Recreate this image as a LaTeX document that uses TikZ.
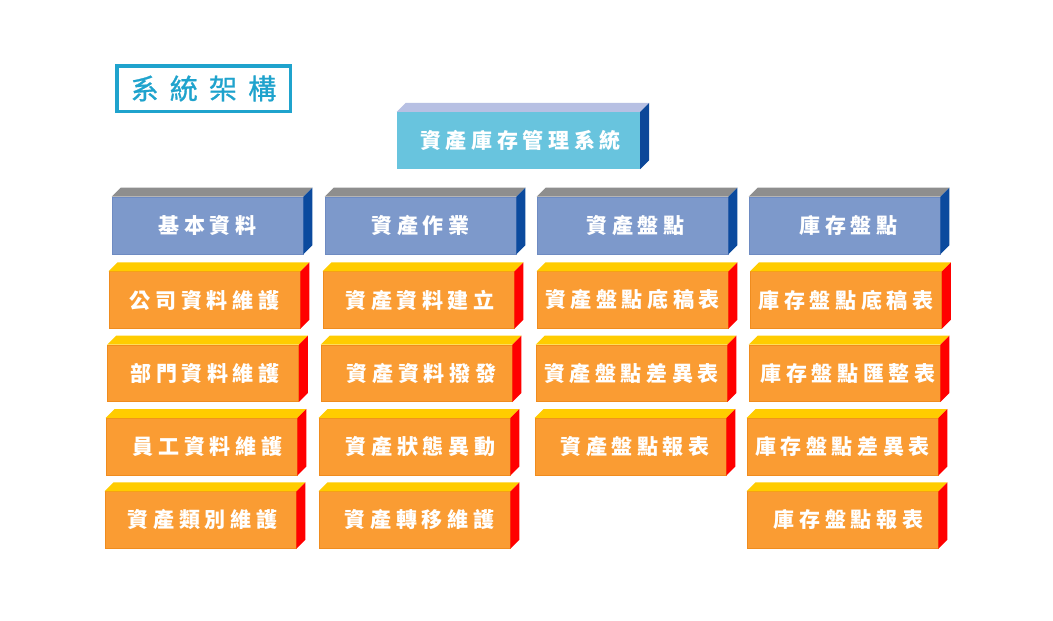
\documentclass[tikz,border=0pt]{standalone}
\usepackage{fontspec}
\newfontfamily\cjk[LetterSpace=22]{Noto Sans CJK TC}
\newfontfamily\cjktitle[LetterSpace=40,FakeBold=1]{Noto Sans CJK TC}
\definecolor{ofrontc}{HTML}{FA9C33}
\definecolor{oedgec}{HTML}{F08C1E}
\definecolor{otopc}{HTML}{FFCC00}
\definecolor{osidec}{HTML}{FF0000}
\definecolor{bfrontc}{HTML}{7D99CB}
\definecolor{bedgec}{HTML}{6E8BC2}
\definecolor{btopc}{HTML}{8E8E8E}
\definecolor{bsidec}{HTML}{0B4A9E}
\definecolor{cfrontc}{HTML}{68C4DE}
\definecolor{ctopc}{HTML}{B7C0E3}
\definecolor{csidec}{HTML}{0C4799}
\definecolor{titlec}{HTML}{1FA3CD}
\tikzset{
  lbl/.style={text=white, font=\cjk\bfseries\fontsize{21}{21}\selectfont, inner sep=0pt},
  ofront/.style={lbl, fill=ofrontc, draw=oedgec, line width=0.8pt},
  otop/.style={fill=otopc},
  oside/.style={fill=osidec},
  bfront/.style={lbl, fill=bfrontc, draw=bedgec, line width=0.6pt},
  btop/.style={fill=btopc},
  bside/.style={fill=bsidec},
  cfront/.style={lbl, fill=cfrontc},
  ctop/.style={fill=ctopc},
  cside/.style={fill=csidec},
  titlebox/.style={draw=titlec, line width=3.5pt, text=titlec, inner sep=0pt,
    font=\cjktitle\fontsize{28}{28}\selectfont}
}
% text shift to the right by #1 pt
\newcommand\tsh[1]{\hspace*{#1pt}\hspace*{#1pt}}
% #1 name, #2 cx, #3 cy, #4 w, #5 h, #6 style prefix, #7 text
\newcommand\blockthree[7]{%
  \node[#6front, minimum width=#4pt, minimum height=#5pt] (#1) at (#2,#3) {#7};
  \fill[#6top] (#1.north west) -- ++(9,-9) -- ([shift={(9,-9)}]#1.north east) -- (#1.north east) -- cycle;
  \fill[#6side] (#1.north east) -- ++(9,-9) -- ([shift={(9,-9)}]#1.south east) -- (#1.south east) -- cycle;
}
\begin{document}
\begin{tikzpicture}[x=1pt,y=-1pt]
\useasboundingbox (0,0) rectangle (1053,621);
\fill[white] (0,0) rectangle (1053,621);
% title
\node[titlebox, minimum width=173.5pt, minimum height=45.5pt] (title) at (203.5,88.5) {系統架構};
% top
\blockthree{root}{518.5}{140.5}{243}{57}{c}{\tsh{2}資產庫存管理系統}
% level 2
\blockthree{c1}{207.5}{225.5}{191}{57}{b}{基本資料}
\blockthree{c2}{420.5}{225.5}{191}{57}{b}{資產作業}
\blockthree{c3}{632.5}{225.5}{191}{57}{b}{\tsh{3}資產盤點}
\blockthree{c4}{844.5}{225.5}{191}{57}{b}{\tsh{4}庫存盤點}
% column 1
\blockthree{a11}{204.5}{300}{191}{56.5}{o}{公司資料維護}
\blockthree{a12}{203}{373.3}{191}{56.5}{o}{\tsh{2}部門資料維護}
\blockthree{a13}{201.5}{446.7}{191}{56.5}{o}{\tsh{6}員工資料維護}
\blockthree{a14}{200.5}{520}{191}{56.5}{o}{\tsh{2}資產類別維護}
% column 2
\blockthree{a21}{418.5}{300}{191}{56.5}{o}{\tsh{1.5}資產資料建立}
\blockthree{a22}{416.5}{373.3}{191}{56.5}{o}{\tsh{5}資產資料撥發}
\blockthree{a23}{414.5}{446.7}{191}{56.5}{o}{\tsh{6}資產狀態異動}
\blockthree{a24}{414.5}{520}{191}{56.5}{o}{\tsh{5}資產轉移維護}
% column 3
\blockthree{a31}{632.5}{300}{191}{56.5}{o}{資產盤點底稿表}
\blockthree{a32}{631.5}{373.3}{191}{56.5}{o}{資產盤點差異表}
\blockthree{a33}{630.5}{446.7}{191}{56.5}{o}{\tsh{4.5}資產盤點報表}
% column 4
\blockthree{a41}{846}{300}{191}{56.5}{o}{庫存盤點底稿表}
\blockthree{a42}{844.5}{373.3}{191}{56.5}{o}{\tsh{3.5}庫存盤點匯整表}
\blockthree{a43}{842.5}{446.7}{191}{56.5}{o}{庫存盤點差異表}
\blockthree{a44}{842.5}{520}{191}{56.5}{o}{\tsh{6}庫存盤點報表}
\end{tikzpicture}
\end{document}
